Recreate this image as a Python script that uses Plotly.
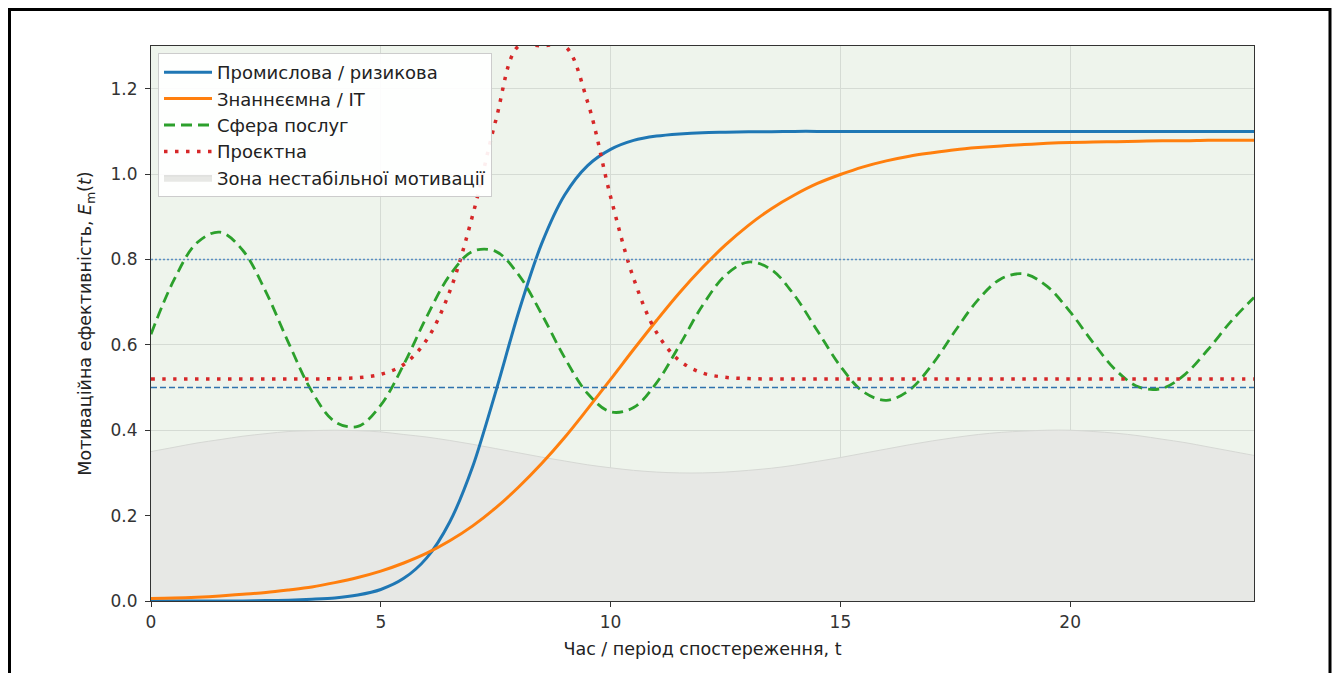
import plotly.graph_objects as go

# time axis (observation period)
t = [i * 0.5 for i in range(49)]

# Промислова / ризикова
industrial = [0.000, 0.000, 0.000, 0.000, 0.000, 0.001, 0.002, 0.004, 0.007, 0.014,
              0.027, 0.053, 0.101, 0.185, 0.315, 0.490, 0.677, 0.837, 0.951, 1.020,
              1.058, 1.079, 1.089, 1.094, 1.097, 1.098, 1.099, 1.099, 1.100, 1.100,
              1.100, 1.100, 1.100, 1.100, 1.100, 1.100, 1.100, 1.100, 1.100, 1.100,
              1.100, 1.100, 1.100, 1.100, 1.100, 1.100, 1.100, 1.100, 1.100]

# Знаннєємна / IT
knowledge = [0.006, 0.007, 0.009, 0.012, 0.016, 0.020, 0.026, 0.033, 0.043, 0.055,
             0.070, 0.089, 0.112, 0.141, 0.176, 0.218, 0.267, 0.322, 0.383, 0.450,
             0.519, 0.589, 0.657, 0.722, 0.781, 0.834, 0.880, 0.919, 0.951, 0.978,
             0.999, 1.017, 1.031, 1.042, 1.050, 1.057, 1.062, 1.066, 1.069, 1.072,
             1.074, 1.075, 1.076, 1.077, 1.078, 1.078, 1.079, 1.079, 1.079]

# Сфера послуг
services = [0.625, 0.752, 0.839, 0.864, 0.821, 0.724, 0.603, 0.491, 0.420, 0.409,
            0.459, 0.554, 0.666, 0.763, 0.819, 0.819, 0.764, 0.672, 0.570, 0.486,
            0.443, 0.453, 0.511, 0.599, 0.692, 0.763, 0.794, 0.776, 0.716, 0.633,
            0.550, 0.490, 0.470, 0.494, 0.554, 0.633, 0.706, 0.755, 0.766, 0.737,
            0.677, 0.605, 0.540, 0.501, 0.498, 0.531, 0.589, 0.655, 0.711]

# Проєктна (clipped at the top of the axis in the picture)
project = [0.520, 0.520, 0.520, 0.520, 0.520, 0.520, 0.520, 0.520, 0.521, 0.523,
           0.531, 0.554, 0.612, 0.725, 0.904, 1.125, 1.300, 1.300, 1.300, 1.169,
           0.947, 0.756, 0.629, 0.563, 0.534, 0.524, 0.521, 0.520, 0.520, 0.520,
           0.520, 0.520, 0.520, 0.520, 0.520, 0.520, 0.520, 0.520, 0.520, 0.520,
           0.520, 0.520, 0.520, 0.520, 0.520, 0.520, 0.520, 0.520, 0.520]

# Зона нестабільної мотивації (upper edge)
unstable = [0.350, 0.360, 0.370, 0.378, 0.386, 0.392, 0.397, 0.399, 0.400, 0.399,
            0.396, 0.390, 0.384, 0.376, 0.367, 0.357, 0.347, 0.337, 0.328, 0.319,
            0.312, 0.306, 0.302, 0.300, 0.300, 0.302, 0.306, 0.311, 0.318, 0.327,
            0.336, 0.346, 0.356, 0.366, 0.375, 0.383, 0.390, 0.395, 0.398, 0.400,
            0.400, 0.397, 0.393, 0.387, 0.379, 0.371, 0.361, 0.351, 0.341]

thresholds = [0.8, 0.5]
x_ticks = [0, 5, 10, 15, 20]
y_ticks = [0.0, 0.2, 0.4, 0.6, 0.8, 1.0, 1.2]

FONT = "DejaVu Sans"
W, H = 1324, 665
ML, MR, MT, MB = 143, 78, 38, 72
PW, PH = W - ML - MR, H - MT - MB

fig = go.Figure()

fig.add_trace(go.Scatter(
    x=t, y=unstable, mode="lines", fill="tozeroy",
    fillcolor="#e7e8e5", line=dict(color="#d6d8d4", width=1, shape="spline"),
    name="Зона нестабільної мотивації", legendrank=5))

fig.add_hline(y=thresholds[0], line=dict(color="#5a8fc4", width=1.4, dash="2px,2px"))
fig.add_hline(y=thresholds[1], line=dict(color="#2f72ad", width=1.4, dash="6px,3px"))

fig.add_trace(go.Scatter(
    x=t, y=industrial, mode="lines", name="Промислова / ризикова",
    line=dict(color="#1f77b4", width=3, shape="spline", smoothing=0.8), legendrank=1))
fig.add_trace(go.Scatter(
    x=t, y=knowledge, mode="lines", name="Знаннєємна / IT",
    line=dict(color="#ff7f0e", width=3, shape="spline"), legendrank=2))
fig.add_trace(go.Scatter(
    x=t, y=services, mode="lines", name="Сфера послуг",
    line=dict(color="#2ca02c", width=2.8, dash="11px,6px", shape="spline"), legendrank=3))
fig.add_trace(go.Scatter(
    x=t, y=project, mode="lines", name="Проєктна",
    line=dict(color="#d62728", width=3.5, dash="3.5px,7.5px", shape="spline"), legendrank=4))

axis_common = dict(
    showline=True, linecolor="#333333", linewidth=1.2, mirror=True,
    ticks="outside", ticklen=5, tickwidth=1, tickcolor="#333333",
    showgrid=True, gridcolor="#d5dbd4", gridwidth=1, zeroline=False,
    tickfont=dict(family=FONT, size=17, color="#333333"),
)

fig.update_xaxes(range=[0, 24], tickvals=x_ticks, **axis_common,
                 title=dict(text="Час / період спостереження, t",
                            font=dict(family=FONT, size=17.5, color="#222222"),
                            standoff=12))
fig.update_yaxes(range=[0, 1.3], tickvals=y_ticks, tickformat=".1f", **axis_common,
                 ticklabelstandoff=4,
                 title=dict(text="Мотиваційна ефективність, <i>E</i><sub>m</sub>(<i>t</i>)",
                            font=dict(family=FONT, size=17.5, color="#222222"),
                            standoff=14))

fig.update_layout(
    width=W, height=H,
    margin=dict(l=ML, r=MR, t=MT, b=MB, autoexpand=False),
    paper_bgcolor="white", plot_bgcolor="#eef4ec",
    font=dict(family=FONT, size=17, color="#222222"),
    showlegend=True,
    legend=dict(x=7 / PW, y=1 - 7 / PH, xanchor="left", yanchor="top",
                bgcolor="rgba(255,255,255,0.92)", bordercolor="#cccccc", borderwidth=1,
                font=dict(family=FONT, size=18, color="#222222"),
                itemwidth=48, tracegroupgap=0),
)

# outer black frame of the picture
fig.add_shape(type="rect", xref="paper", yref="paper",
              x0=(1.5 - ML) / PW, x1=(W - 2 - ML) / PW,
              y0=-(MB + 20) / PH, y1=1 + (MT - 1.5) / PH,
              line=dict(color="black", width=3), fillcolor="rgba(0,0,0,0)",
              layer="above")

fig.write_html("out.html")
